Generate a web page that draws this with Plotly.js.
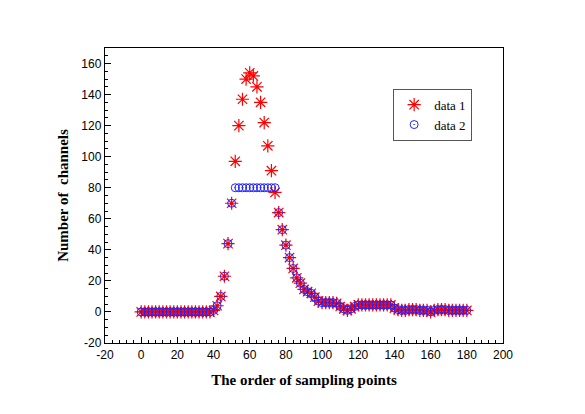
<!DOCTYPE html>
<html>
<head>
<meta charset="utf-8">
<script src="https://cdn.plot.ly/plotly-3.0.1.min.js"></script>
<style>
  html, body { margin: 0; padding: 0; background: #fff; }
  #plot { width: 585px; height: 414px; }
</style>
</head>
<body>
<div id="plot"></div>
<script>
// sampling points 0, 2, 4 ... 180
var samplePoints = [
  0, 2, 4, 6, 8, 10, 12, 14, 16, 18, 20, 22, 24, 26, 28, 30, 32, 34, 36, 38,
  40, 42, 44, 46, 48, 50, 52, 54, 56, 58, 60, 62, 64, 66, 68, 70, 72, 74, 76, 78,
  80, 82, 84, 86, 88, 90, 92, 94, 96, 98, 100, 102, 104, 106, 108, 110, 112, 114, 116, 118,
  120, 122, 124, 126, 128, 130, 132, 134, 136, 138, 140, 142, 144, 146, 148, 150, 152, 154, 156, 158,
  160, 162, 164, 166, 168, 170, 172, 174, 176, 178, 180
];

// data 1 (stars)
var data1 = [
  0, 0, 0, 0, 0, 0, 0, 0, 0, 0, 0, 0, 0, 0, 0, 0, 0, 0, 0, 0,
  1, 4, 10, 23, 44, 70, 97, 120, 137, 150, 154, 152, 145, 135, 122, 107, 91, 77, 64, 53,
  43, 35, 28, 22, 18.5, 14.5, 13, 12, 9.5, 7, 6, 6, 6, 6, 5.5, 3.5, 2, 1, 2, 3.5,
  4.5, 4.5, 4.5, 4.5, 4.5, 4.5, 4.5, 4.5, 4.5, 4.5, 2.5, 1.5, 1, 1, 1.5, 1.5, 1.5, 1, 1, 1,
  0, 1, 1.5, 1.5, 1.5, 1, 1, 1, 1, 1, 1
];

// data 2 (circles) - same as data 1 but flat at 80 around the peak
var data2 = [
  0, 0, 0, 0, 0, 0, 0, 0, 0, 0, 0, 0, 0, 0, 0, 0, 0, 0, 0, 0,
  1, 4, 10, 23, 44, 70, 80, 80, 80, 80, 80, 80, 80, 80, 80, 80, 80, 80, 64, 53,
  43, 35, 28, 22, 18.5, 14.5, 13, 12, 9.5, 7, 6, 6, 6, 6, 5.5, 3.5, 2, 1, 2, 3.5,
  4.5, 4.5, 4.5, 4.5, 4.5, 4.5, 4.5, 4.5, 4.5, 4.5, 2.5, 1.5, 1, 1, 1.5, 1.5, 1.5, 1, 1, 1,
  0, 1, 1.5, 1.5, 1.5, 1, 1, 1, 1, 1, 1
];

var seriesNames = ['data 1', 'data 2'];

// tick labels (plain hyphen for negatives, like the original)
var xTickVals = [-20, 0, 20, 40, 60, 80, 100, 120, 140, 160, 180, 200];
var xTickText = ['-20', '0', '20', '40', '60', '80', '100', '120', '140', '160', '180', '200'];
var yTickVals = [-20, 0, 20, 40, 60, 80, 100, 120, 140, 160];
var yTickText = ['-20', '0', '20', '40', '60', '80', '100', '120', '140', '160'];

var traces = [
  {
    x: samplePoints, y: data1, name: seriesNames[0],
    type: 'scatter', mode: 'markers',
    marker: { symbol: 'asterisk-open', size: 11, color: '#ff0000',
              line: { width: 1.2, color: '#ff0000' } }
  },
  {
    x: samplePoints, y: data2, name: seriesNames[1],
    type: 'scatter', mode: 'markers',
    marker: { symbol: 'circle-open-dot', size: 8, color: '#2222ff',
              line: { width: 1, color: '#2222ff' } }
  }
];

var axisCommon = {
  showline: true, mirror: true, linecolor: '#000', linewidth: 1.2,
  showgrid: false, zeroline: false,
  ticks: 'inside', ticklen: 6, tickwidth: 1, tickcolor: '#000',
  tickmode: 'array',
  tickfont: { family: 'Liberation Sans, Arial, sans-serif', size: 12, color: '#000' }
};

var serif = 'Liberation Serif, Times New Roman, serif';

var layout = {
  width: 585, height: 414,
  margin: { l: 104.5, r: 81.7, t: 48.3, b: 70.7 },
  paper_bgcolor: '#fff', plot_bgcolor: '#fff',
  showlegend: true,
  legend: {
    x: 0.724, y: 0.862, xanchor: 'left', yanchor: 'top',
    bgcolor: '#fff', bordercolor: '#555', borderwidth: 1,
    font: { family: serif, size: 13, color: '#000' },
    tracegroupgap: 0, itemwidth: 30
  },
  xaxis: Object.assign({}, axisCommon, {
    range: [-20, 200], tickvals: xTickVals, ticktext: xTickText,
    minor: { dtick: 4, tick0: 0, ticks: 'inside', ticklen: 3, tickcolor: '#000' },
    title: { text: '<b>The order of sampling points</b>', standoff: 14,
             font: { family: serif, size: 15, color: '#000' } }
  }),
  yaxis: Object.assign({}, axisCommon, {
    range: [-20, 170], tickvals: yTickVals, ticktext: yTickText,
    minor: { dtick: 5, tick0: 0, ticks: 'inside', ticklen: 3, tickcolor: '#000' },
    title: { text: '<b>Number of  channels</b>', standoff: 9,
             font: { family: serif, size: 15, color: '#000' } }
  })
};

Plotly.newPlot('plot', traces, layout, { displayModeBar: false, staticPlot: true });
</script>
</body>
</html>
